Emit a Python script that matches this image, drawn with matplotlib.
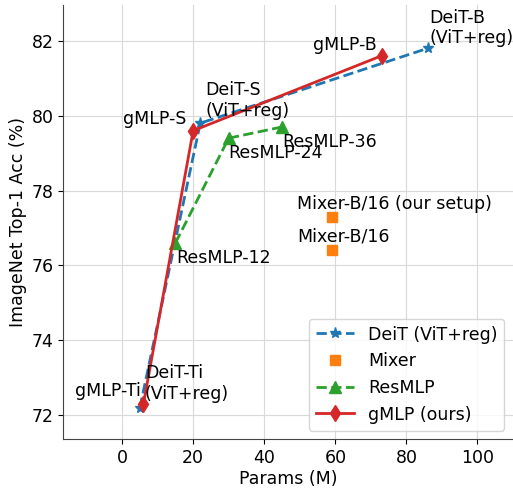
import matplotlib
matplotlib.use('Agg')
import matplotlib.pyplot as plt

# params (M) and ImageNet top-1 acc
deit_params = [5, 22, 86]
deit_acc = [72.2, 79.8, 81.8]
mixer_params = [59, 59]
mixer_acc = [77.3, 76.4]
resmlp_params = [15, 30, 45]
resmlp_acc = [76.6, 79.4, 79.7]
gmlp_params = [6, 20, 73]
gmlp_acc = [72.3, 79.6, 81.6]

deit_names = ['DeiT-Ti\n(ViT+reg)', 'DeiT-S\n(ViT+reg)', 'DeiT-B\n(ViT+reg)']
mixer_names = ['Mixer-B/16 (our setup)', 'Mixer-B/16']
resmlp_names = ['ResMLP-12', 'ResMLP-24', 'ResMLP-36']
gmlp_names = ['gMLP-Ti', 'gMLP-S', 'gMLP-B']

FS = 12.5
plt.rcParams['font.family'] = 'DejaVu Sans'
plt.rcParams['font.size'] = FS

fig = plt.figure(figsize=(5.13, 4.88), dpi=100)
ax = fig.add_axes([0.123, 0.1, 0.877, 0.89])

ax.plot(deit_params, deit_acc, '--*', color='#1f77b4', lw=2, ms=8, label='DeiT (ViT+reg)')
ax.plot(mixer_params, mixer_acc, 's', color='#ff7f0e', ms=7.5, label='Mixer')
ax.plot(resmlp_params, resmlp_acc, '--^', color='#2ca02c', lw=2, ms=8, label='ResMLP')
ax.plot(gmlp_params, gmlp_acc, '-d', color='#d62728', lw=2, ms=8.5, label='gMLP (ours)')

def note(txt, x, y, dx, dy, ha, va):
    ax.annotate(txt, (x, y), xytext=(dx, dy), textcoords='offset pixels',
                ha=ha, va=va, fontsize=FS)

# deit labels
note(deit_names[0], deit_params[0], deit_acc[0], 5, 5, 'left', 'bottom')
note(deit_names[1], deit_params[1], deit_acc[1], 5, 3, 'left', 'bottom')
note(deit_names[2], deit_params[2], deit_acc[2], 2, 1, 'left', 'bottom')
# mixer
note(mixer_names[0], mixer_params[0], mixer_acc[0], -35, 4, 'left', 'bottom')
note(mixer_names[1], mixer_params[1], mixer_acc[1], -35, 5, 'left', 'bottom')
# resmlp
note(resmlp_names[0], resmlp_params[0], resmlp_acc[0], 1, -6, 'left', 'top')
note(resmlp_names[1], resmlp_params[1], resmlp_acc[1], 0, -6, 'left', 'top')
note(resmlp_names[2], resmlp_params[2], resmlp_acc[2], 0, -6, 'left', 'top')
# gmlp
note(gmlp_names[0], gmlp_params[0], gmlp_acc[0], -3, 4, 'right', 'bottom')
note(gmlp_names[1], gmlp_params[1], gmlp_acc[1], -7, 3, 'right', 'bottom')
note(gmlp_names[2], gmlp_params[2], gmlp_acc[2], -5, 2, 'right', 'bottom')

ax.set_xlim(-16.6, 110)
ax.set_ylim(71.36, 82.96)
ax.set_xticks([0, 20, 40, 60, 80, 100])
ax.set_yticks([72, 74, 76, 78, 80, 82])
ax.grid(True, color='#d9d9d9', lw=0.8)
ax.set_axisbelow(True)
for s in ['top', 'right']:
    ax.spines[s].set_visible(False)
for s in ['left', 'bottom']:
    ax.spines[s].set_color('#444444')
ax.set_xlabel('Params (M)', labelpad=2)
ax.set_ylabel('ImageNet Top-1 Acc (%)', labelpad=3)
ax.legend(loc='lower right', fontsize=FS, handlelength=2.2)

fig.savefig('out.png', dpi=100)
